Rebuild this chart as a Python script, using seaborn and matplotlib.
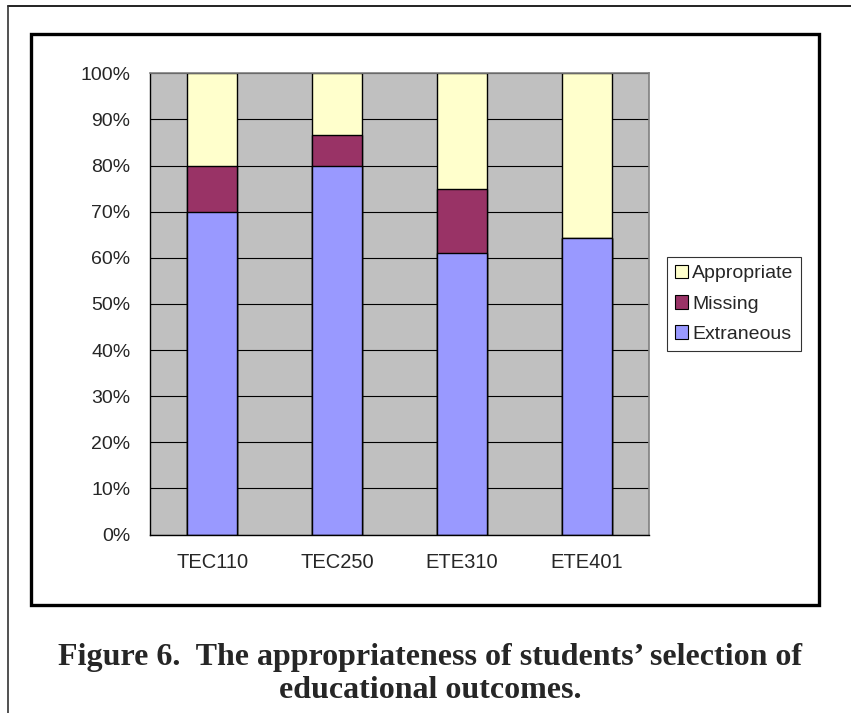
import pandas as pd
import matplotlib
matplotlib.use("Agg")
import matplotlib.pyplot as plt
import seaborn as sns
from matplotlib.lines import Line2D
from matplotlib.patches import Rectangle, Patch

# data (percent of responses)
courses = ["TEC110", "TEC250", "ETE310", "ETE401"]
extraneous = [70.0, 80.0, 61.1, 64.3]
missing = [10.0, 6.7, 13.9, 0.0]
appropriate = [20.0, 13.3, 25.0, 35.7]

series = ["Appropriate", "Missing", "Extraneous"]
colors = {"Appropriate": "#FFFFCC", "Missing": "#993366", "Extraneous": "#9999FF"}

df = pd.DataFrame({"course": courses, "Extraneous": extraneous,
                   "Missing": missing, "Appropriate": appropriate})
# cumulative tops for stacking
df["top_ext"] = df["Extraneous"]
df["top_mis"] = df["Extraneous"] + df["Missing"]
df["top_app"] = df["top_mis"] + df["Appropriate"]

sns.set_style("white")
plt.rcParams["font.family"] = ["Liberation Sans", "DejaVu Sans"]

fig = plt.figure(figsize=(8.51, 7.13), dpi=100)
ax = fig.add_axes([150 / 851, 1 - 534.5 / 713, 499 / 851, 461.2 / 713])
ax.set_facecolor("#C0C0C0")

# draw back to front so each layer shows its own segment
for col, name in [("top_app", "Appropriate"), ("top_mis", "Missing"), ("top_ext", "Extraneous")]:
    sns.barplot(data=df, x="course", y=col, color=colors[name], width=0.4,
                edgecolor="black", linewidth=1.0, saturation=1, ax=ax, zorder=3)

ax.set_xlim(-0.5, 3.5)
ax.set_ylim(0, 100)
ax.set_yticks(range(0, 101, 10))
ax.set_yticklabels([f"{v}%" for v in range(0, 101, 10)])
ax.yaxis.grid(True, color="black", linewidth=0.8, zorder=1)
ax.set_axisbelow(True)
ax.set_xlabel("")
ax.set_ylabel("")

# x ticks sit between categories, labels centred under bars
ax.set_xticks([-0.5, 0.5, 1.5, 2.5, 3.5])
ax.set_xticklabels([])
ax.set_xticks(range(4), minor=True)
ax.set_xticklabels(courses, minor=True)
ax.tick_params(axis="x", which="minor", length=0, pad=13, labelsize=14.5)
ax.tick_params(axis="x", which="major", direction="out", length=4, width=1, color="black")
ax.tick_params(axis="y", direction="out", length=4, width=1, color="black", pad=10, labelsize=14)

for s in ["left", "bottom"]:
    ax.spines[s].set_color("black")
    ax.spines[s].set_linewidth(1.0)
for s in ["top", "right"]:
    ax.spines[s].set_color("#808080")
    ax.spines[s].set_linewidth(1.2)
for s in ax.spines.values():
    s.set_zorder(4)

handles = [Patch(facecolor=colors[n], edgecolor="black", linewidth=0.8, label=n) for n in series]
leg = fig.legend(handles=handles, loc="upper left", bbox_to_anchor=(667 / 851, 1 - 257 / 713),
                 bbox_transform=fig.transFigure, borderaxespad=0, fancybox=False, shadow=False,
                 frameon=True, fontsize=14, handlelength=0.7, handleheight=0.7,
                 handletextpad=0.2, labelspacing=0.65, borderpad=0.4)
leg.get_frame().set_edgecolor("black")
leg.get_frame().set_linewidth(0.8)

# thick chart frame
fig.add_artist(Rectangle((31 / 851, 1 - 605 / 713), (819 - 31) / 851, (605 - 34) / 713,
                         transform=fig.transFigure, fill=False, edgecolor="black", linewidth=2.4))
# page rules at top and left
fig.add_artist(Line2D([8 / 851, 1.0], [1 - 6 / 713, 1 - 6 / 713], transform=fig.transFigure,
                      color="#222222", linewidth=1.4))
fig.add_artist(Line2D([8 / 851, 8 / 851], [1 - 6 / 713, 0.0], transform=fig.transFigure,
                      color="#333333", linewidth=1.2))

cap = dict(ha="center", va="baseline", fontsize=23, fontweight="bold",
           family=["Liberation Serif", "DejaVu Serif"])
fig.text(430 / 851, 1 - 665 / 713, "Figure 6.  The appropriateness of students\u2019 selection of", **cap)
fig.text(430 / 851, 1 - 698 / 713, "educational outcomes.", **cap)

fig.savefig("out.png", dpi=100)
